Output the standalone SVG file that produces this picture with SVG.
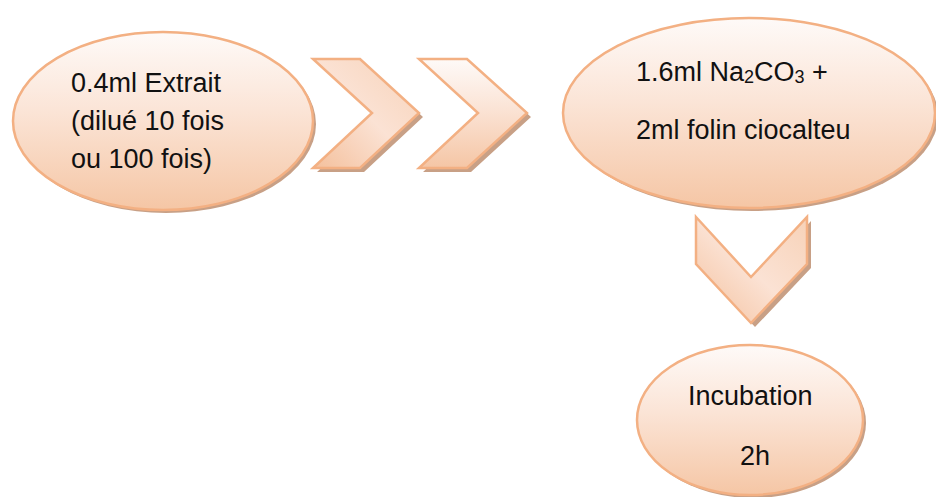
<svg xmlns="http://www.w3.org/2000/svg" width="936" height="497" viewBox="0 0 936 497">
  <defs>
    <linearGradient id="peach" x1="0" y1="0" x2="0" y2="1">
      <stop offset="0" stop-color="#fefaf8"/>
      <stop offset="0.45" stop-color="#fbe4d6"/>
      <stop offset="1" stop-color="#f5c6a5"/>
    </linearGradient>
    <linearGradient id="peachDiag" x1="1" y1="0" x2="0" y2="1">
      <stop offset="0" stop-color="#f7d2b8"/>
      <stop offset="0.5" stop-color="#fbe2d4"/>
      <stop offset="1" stop-color="#f4c09c"/>
    </linearGradient>
    <style>
      .shadow { fill: #c8a086; }
      .shape { stroke: #f3b083; stroke-width: 2.5; stroke-linejoin: miter; }
      .label { font-family: "Liberation Sans", Arial, sans-serif; font-size: 27px; fill: #111111; }
      .sub { font-size: 18px; }
    </style>
  </defs>

  <!-- arrows between steps -->
  <g id="connectors">
    <g id="chevron-1">
      <polygon class="shadow" points="317,63 364,63 423,117 364,172 317,172 376,117"/>
      <polygon class="shape" fill="url(#peachDiag)" points="313,59 360,59 419,113 360,168 313,168 372,113"/>
    </g>
    <g id="chevron-2">
      <polygon class="shadow" points="423,63 471,63 531,117 471,172 423,172 482,117"/>
      <polygon class="shape" fill="url(#peach)" points="419,59 467,59 527,113 467,168 419,168 478,113"/>
    </g>
    <g id="chevron-down">
      <polygon class="shadow" points="700,221 755,281 811,221 811,268 755,327 700,268"/>
      <polygon class="shape" fill="url(#peachDiag)" points="696,217 751,277 807,217 807,264 751,323 696,264"/>
    </g>
  </g>

  <g id="extrait">
    <ellipse class="shadow" cx="166" cy="124" rx="150" ry="89"/>
    <ellipse class="shape" fill="url(#peach)" cx="163" cy="121" rx="150" ry="89"/>
    <text class="label" x="71" y="92">0.4ml Extrait</text>
    <text class="label" x="71" y="130">(dilué 10 fois</text>
    <text class="label" x="71" y="168">ou 100 fois)</text>
  </g>

  <g id="reactifs">
    <ellipse class="shadow" cx="752" cy="116" rx="186" ry="95"/>
    <ellipse class="shape" fill="url(#peach)" cx="749" cy="113" rx="186" ry="95"/>
    <text class="label" x="636" y="81">1.6ml Na<tspan class="sub" dy="2">2</tspan><tspan dy="-2">CO</tspan><tspan class="sub" dy="2">3</tspan><tspan dy="-2"> +</tspan></text>
    <text class="label" x="636" y="139">2ml folin ciocalteu</text>
  </g>

  <g id="incubation">
    <ellipse class="shadow" cx="753" cy="423" rx="113" ry="75"/>
    <ellipse class="shape" fill="url(#peach)" cx="750" cy="420" rx="113" ry="75"/>
    <text class="label" x="688" y="405">Incubation</text>
    <text class="label" x="740" y="465">2h</text>
  </g>
</svg>
